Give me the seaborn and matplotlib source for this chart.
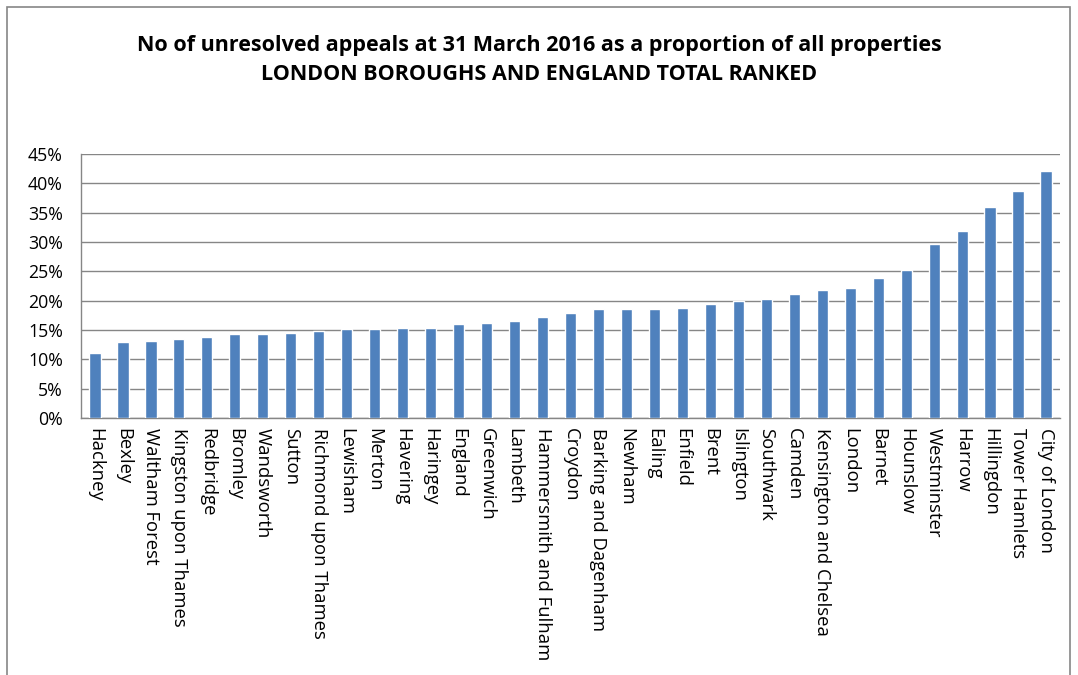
import matplotlib
matplotlib.use("Agg")
import matplotlib.pyplot as plt
import seaborn as sns
import pandas as pd
from matplotlib.patches import Rectangle
from matplotlib.ticker import FuncFormatter, FixedLocator

categories = ["Hackney", "Bexley", "Waltham Forest", "Kingston upon Thames", "Redbridge",
              "Bromley", "Wandsworth", "Sutton", "Richmond upon Thames", "Lewisham",
              "Merton", "Havering", "Haringey", "England", "Greenwich", "Lambeth",
              "Hammersmith and Fulham", "Croydon", "Barking and Dagenham", "Newham",
              "Ealing", "Enfield", "Brent", "Islington", "Southwark", "Camden",
              "Kensington and Chelsea", "London", "Barnet", "Hounslow", "Westminster",
              "Harrow", "Hillingdon", "Tower Hamlets", "City of London"]
values = [11.0, 13.0, 13.2, 13.4, 13.8, 14.3, 14.4, 14.5, 14.8, 15.1,
          15.1, 15.3, 15.3, 16.1, 16.2, 16.5, 17.3, 17.9, 18.5, 18.5,
          18.6, 18.7, 19.5, 19.9, 20.3, 21.1, 21.8, 22.2, 23.9, 25.3,
          29.7, 31.9, 36.0, 38.7, 42.1]
yticks = [0, 5, 10, 15, 20, 25, 30, 35, 40, 45]
title = ("No of unresolved appeals at 31 March 2016 as a proportion of all properties\n"
         "LONDON BOROUGHS AND ENGLAND TOTAL RANKED")

df = pd.DataFrame({"area": categories, "pct": values})

sns.set_theme(style="white")
plt.rcParams['font.family'] = ['Open Sans', 'DejaVu Sans']

fig = plt.figure(figsize=(10.78, 6.75), dpi=100)
ax = fig.add_axes([81/1078, 1-418/675, 979/1078, 264/675])

sns.barplot(data=df, x="area", y="pct", color="#4F81BD", width=0.4,
            saturation=1, ax=ax, zorder=3)

ax.set_ylim(0, 45)
ax.set_xlim(-0.5, len(categories) - 0.5)
ax.set_yticks(yticks)
ax.yaxis.set_major_formatter(FuncFormatter(lambda v, p: f"{int(v)}%"))
ax.yaxis.grid(True, color="#868686", linewidth=1.0, zorder=0)
ax.set_axisbelow(True)
ax.set_xlabel("")
ax.set_ylabel("")

ax.set_xticks(range(len(categories)))
ax.set_xticklabels(categories, rotation=-90, fontsize=13.3, color="black")
ax.tick_params(axis="x", which="major", length=0, pad=7)
ax.xaxis.set_minor_locator(FixedLocator([i - 0.5 for i in range(len(categories) + 1)]))
ax.tick_params(axis="x", which="minor", length=5, color="#868686", width=1, direction="out")
ax.tick_params(axis="y", length=6, color="#868686", width=1, direction="out",
               labelsize=12.8, labelcolor="black", pad=7)
for lab in ax.get_xticklabels():
    lab.set_va("top")
    lab.set_ha("center")

for s in ["top", "right"]:
    ax.spines[s].set_visible(False)
ax.spines["left"].set_color("#868686")
ax.spines["bottom"].set_color("#868686")
ax.spines["left"].set_linewidth(1)
ax.spines["bottom"].set_linewidth(1)

fig.text(0.5, 1 - 60/675, title, ha="center", va="center", fontsize=15.5,
         fontweight="bold", linespacing=1.45, color="black")

fig.add_artist(Rectangle((7/1078, -0.05), 1063/1078, 1.05 - 7/675,
                         transform=fig.transFigure, fill=False,
                         edgecolor="#868686", linewidth=1.2))

fig.savefig("out.png", dpi=100)
